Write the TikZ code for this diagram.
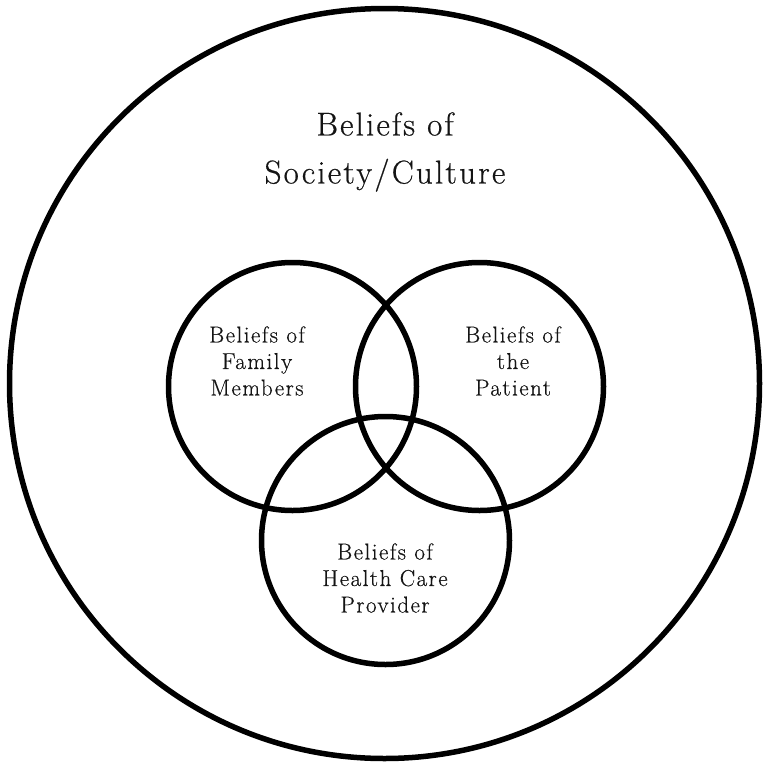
\documentclass[tikz,border=0pt]{standalone}
\usepackage{fontspec}
\setmainfont{Latin Modern Roman}[LetterSpace=6.5,FakeBold=0.5]
\begin{document}
\begin{tikzpicture}[x=1pt,y=-1pt,
  ring/.style={draw=black,line width=5.5pt,circle,inner sep=0pt,minimum size=#1},
  smalllabel/.style={align=center,text=black!92,font=\fontsize{23}{26.5}\selectfont},
  biglabel/.style={align=center,text=black!92,font=\fontsize{33}{48}\selectfont}]
  \useasboundingbox (0,0) rectangle (765,766);
  % society / culture
  \node[ring=750pt] (society) at (384.5,383.5) {};
  % overlapping belief sets
  \node[ring=248pt] (family)   at (292.5,386.5) {};
  \node[ring=248pt] (patient)  at (479.5,386.5) {};
  \node[ring=248pt] (provider) at (385.5,540.5) {};
  % labels
  \node[biglabel]   (societytext)  at (385,152) {Beliefs of\\Society/Culture};
  \node[smalllabel] (familytext)   at (257,361) {Beliefs of\\Family\\Members};
  \node[smalllabel] (patienttext)  at (513,361) {Beliefs of\\the\\Patient};
  \node[smalllabel] (providertext) at (385,578) {Beliefs of\\Health Care\\Provider};
\end{tikzpicture}
\end{document}
